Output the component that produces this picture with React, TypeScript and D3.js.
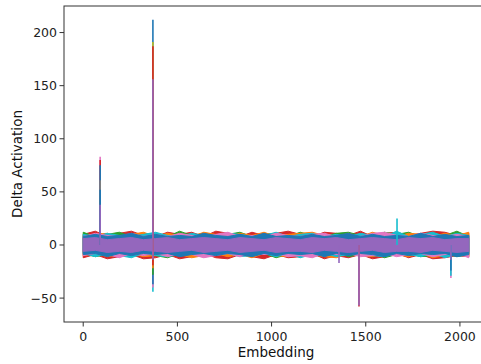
import React, { useEffect } from "react";
import * as d3 from "d3";

// sample positions along the embedding axis
const embedding = [
  0, 64, 128, 192, 256, 320, 384, 448, 512, 576, 640, 704, 768, 832, 896, 960,
  1024, 1088, 1152, 1216, 1280, 1344, 1408, 1472, 1536, 1600, 1664, 1728, 1792,
  1856, 1920, 1984, 2047,
];

// noise band envelopes per series (upper / lower)
const redHi = [10, 13, 8, 11, 13, 9, 8, 12, 10, 12, 8, 13, 11, 8, 12, 9, 11, 13, 10, 8, 12, 11, 9, 13, 8, 11, 12, 9, 11, 13, 12, 9, 11];
const redLo = [-12, -9, -13, -11, -9, -13, -12, -9, -13, -11, -8, -12, -13, -9, -11, -13, -9, -12, -11, -8, -13, -10, -12, -9, -13, -11, -8, -12, -9, -13, -12, -10, -11];
const greenHi = [12, 8, 10, 12, 8, 11, 10, 8, 13, 9, 11, 8, 10, 12, 8, 11, 10, 8, 12, 9, 8, 11, 12, 9, 8, 12, 10, 12, 8, 11, 9, 13, 8];
const greenLo = [-8, -11, -9, -7, -11, -8, -10, -12, -8, -10, -11, -8, -10, -7, -11, -8, -12, -9, -8, -11, -9, -7, -11, -9, -8, -12, -9, -8, -11, -10, -8, -11, -9];
const orangeHi = [8, 10, 11, 8, 10, 12, 8, 11, 9, 8, 12, 10, 8, 11, 9, 12, 8, 10, 11, 12, 9, 8, 11, 8, 12, 9, 8, 11, 10, 8, 11, 9, 12];
const orangeLo = [-10, -8, -11, -9, -8, -11, -10, -8, -9, -12, -10, -8, -11, -9, -12, -8, -10, -11, -8, -9, -11, -12, -8, -10, -11, -8, -9, -11, -8, -12, -10, -8, -11];
const cyanHi = [10, 8, 11, 9, 8, 10, 12, 9, 8, 11, 9, 8, 11, 10, 8, 9, 12, 8, 10, 11, 8, 10, 8, 11, 9, 8, 13, 8, 10, 12, 8, 11, 9];
const cyanLo = [-8, -11, -8, -10, -12, -8, -10, -11, -9, -8, -11, -9, -8, -11, -10, -8, -11, -8, -12, -9, -8, -11, -9, -8, -10, -11, -8, -9, -11, -8, -12, -9, -8];
const pinkHi = [8, 11, 9, 8, 11, 8, 10, 8, 11, 9, 8, 10, 12, 8, 9, 8, 11, 9, 8, 10, 11, 8, 9, 8, 11, 12, 9, 8, 11, 9, 8, 10, 8];
const pinkLo = [-10, -8, -9, -12, -8, -10, -8, -11, -8, -9, -12, -10, -8, -11, -8, -9, -8, -11, -10, -12, -8, -9, -8, -11, -10, -8, -11, -9, -8, -11, -9, -8, -12];
const blueHi = [8, 10, 8, 9, 11, 8, 10, 8, 9, 8, 11, 9, 8, 10, 8, 11, 8, 9, 8, 10, 8, 9, 11, 8, 10, 8, 9, 8, 11, 8, 10, 8, 9];
const blueLo = [-9, -8, -11, -8, -10, -8, -9, -8, -11, -9, -8, -10, -8, -9, -11, -8, -10, -8, -9, -8, -11, -8, -10, -8, -9, -11, -8, -10, -8, -9, -8, -11, -9];
const purpleHi = [6, 7, 5, 6, 7, 5, 6, 7, 5, 6, 7, 6, 5, 7, 6, 5, 7, 6, 5, 7, 6, 7, 5, 6, 7, 6, 5, 7, 6, 7, 5, 6, 6];
const purpleLo = [-6, -5, -7, -6, -7, -5, -6, -7, -6, -5, -7, -6, -5, -7, -6, -5, -7, -6, -6, -7, -5, -6, -7, -6, -5, -7, -6, -6, -7, -5, -6, -7, -6];

// spikes, in drawing order
const spikeEmbedding = [90, 90, 90, 90, 90, 90, 370, 370, 370, 370, 370, 370, 370, 370, 370, 370, 370, 1358, 1464, 1464, 1666, 1952, 1952, 1952, 1952];
const spikeValue = [83, 80, 75, 61, 52, 38, 212, 191, 187, 156, -44, -40, -37, -28, -22, -19, -14, -17, -58, -57, 25, -31, -29, -24, -14];
const spikeColor = [
  "#e377c2", "#d62728", "#1f77b4", "#7f7f7f", "#1f77b4", "#9467bd",
  "#1f77b4", "#bcbd22", "#d62728", "#9467bd",
  "#17becf", "#e377c2", "#1f77b4", "#2ca02c", "#ff7f0e", "#d62728", "#9467bd",
  "#9467bd", "#d62728", "#9467bd", "#17becf",
  "#e377c2", "#17becf", "#1f77b4", "#9467bd",
];

const xTicks = [0, 500, 1000, 1500, 2000];
const yTicks = [-50, 0, 50, 100, 150, 200];

const bands = [
  { color: "#d62728", hi: redHi, lo: redLo },
  { color: "#2ca02c", hi: greenHi, lo: greenLo },
  { color: "#ff7f0e", hi: orangeHi, lo: orangeLo },
  { color: "#17becf", hi: cyanHi, lo: cyanLo },
  { color: "#e377c2", hi: pinkHi, lo: pinkLo },
  { color: "#1f77b4", hi: blueHi, lo: blueLo },
  { color: "#9467bd", hi: purpleHi, lo: purpleLo },
];

const W = 481,
  H = 364;
const left = 64,
  right = 488,
  top = 6,
  bottom = 322;

export default function App() {
  useEffect(() => {
    document.body.style.margin = "0";
  }, []);

  const x = d3.scaleLinear().domain([-102, 2149]).range([left, right]);
  const y = d3.scaleLinear().domain([-72.5, 225]).range([bottom, top]);

  const font = "DejaVu Sans, sans-serif";
  const fmt = (v: number) => (v < 0 ? "\u2212" + Math.abs(v) : String(v));

  return (
    <svg width={W} height={H} style={{ display: "block", background: "#fff" }}>
      <defs>
        <clipPath id="plot">
          <rect x={left} y={top} width={right - left} height={bottom - top} />
        </clipPath>
      </defs>
      <g clipPath="url(#plot)">
        {bands.map((b, i) => {
          const area = d3
            .area<number>()
            .x((_, j) => x(embedding[j]))
            .y0((_, j) => y(b.lo[j]))
            .y1((_, j) => y(b.hi[j]));
          return (
            <path
              key={i}
              d={area(embedding) || ""}
              fill={b.color}
              stroke={b.color}
              strokeWidth={1}
            />
          );
        })}
        {spikeEmbedding.map((e, i) => (
          <line
            key={i}
            x1={x(e)}
            x2={x(e)}
            y1={y(0)}
            y2={y(spikeValue[i])}
            stroke={spikeColor[i]}
            strokeWidth={1.6}
          />
        ))}
      </g>

      {/* spines */}
      <rect
        x={left}
        y={top}
        width={right - left}
        height={bottom - top}
        fill="none"
        stroke="#333"
        strokeWidth={1}
      />

      {xTicks.map((t) => (
        <g key={t}>
          <line x1={x(t)} x2={x(t)} y1={bottom} y2={bottom + 4.5} stroke="#333" />
          <text
            x={x(t)}
            y={bottom + 19}
            textAnchor="middle"
            fontFamily={font}
            fontSize={12.5}
            fill="#222"
          >
            {fmt(t)}
          </text>
        </g>
      ))}
      {yTicks.map((t) => (
        <g key={t}>
          <line x1={left - 4.5} x2={left} y1={y(t)} y2={y(t)} stroke="#333" />
          <text
            x={left - 7}
            y={y(t)}
            dy="0.36em"
            textAnchor="end"
            fontFamily={font}
            fontSize={12.5}
            fill="#222"
          >
            {fmt(t)}
          </text>
        </g>
      ))}

      <text
        x={(left + right) / 2}
        y={357}
        textAnchor="middle"
        fontFamily={font}
        fontSize={13.5}
        fill="#111"
      >
        Embedding
      </text>
      <text
        transform={`translate(22, ${(top + bottom) / 2}) rotate(-90)`}
        textAnchor="middle"
        fontFamily={font}
        fontSize={13.5}
        fill="#111"
      >
        Delta Activation
      </text>
    </svg>
  );
}
